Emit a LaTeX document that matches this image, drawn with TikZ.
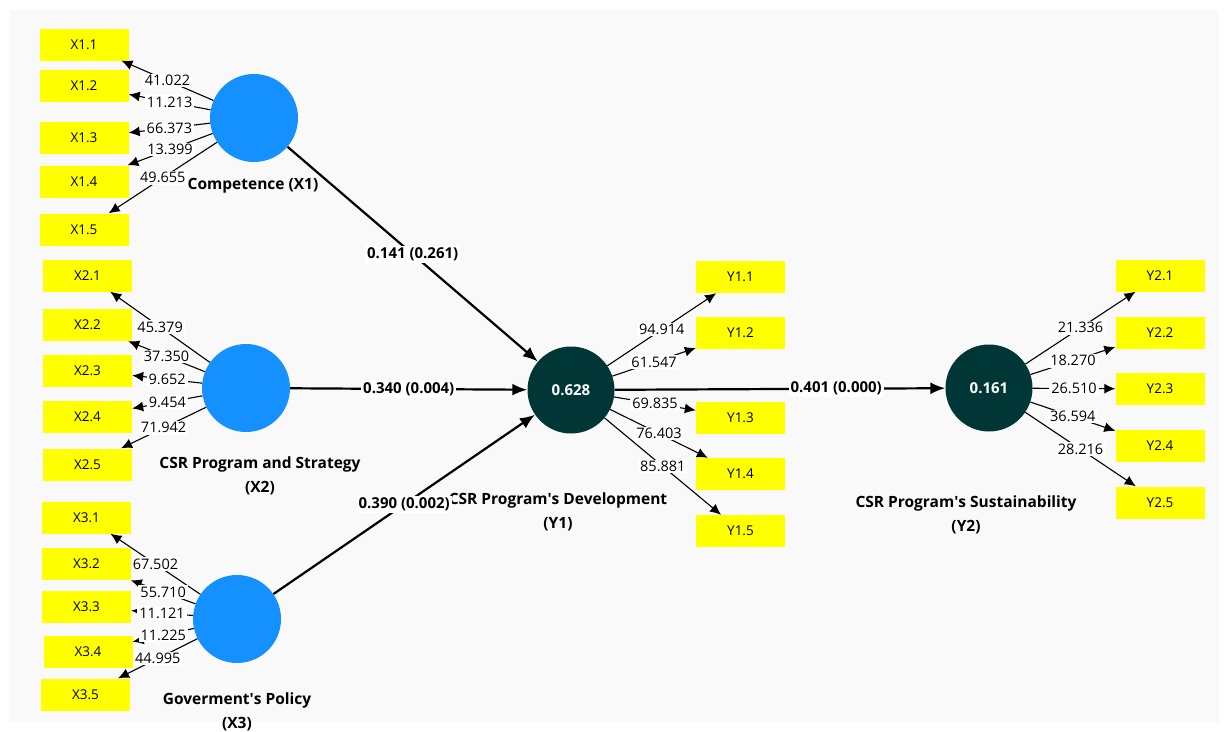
\documentclass[tikz,border=0pt]{standalone}
\usepackage{fontspec}
\setmainfont{Open Sans}
\usetikzlibrary{arrows.meta}
\definecolor{lvblue}{RGB}{20,145,255}
\definecolor{endo}{RGB}{0,54,54}
\definecolor{bgray}{RGB}{249,249,249}
\definecolor{indy}{RGB}{255,255,0}
\begin{document}
\begin{tikzpicture}[x=1pt,y=-1pt,
 ind/.style={fill=indy, minimum width=89pt, minimum height=32pt, inner sep=0pt, font=\fontsize{13.5}{15}\selectfont},
 exo/.style={circle, fill=lvblue, minimum size=88pt, inner sep=0pt},
 endv/.style={circle, fill=endo, minimum size=87pt, inner sep=0pt, text=white, font=\bfseries\fontsize{15}{17}\selectfont},
 ttl/.style={font=\bfseries\fontsize{15.5}{24}\selectfont, align=center},
 load/.style={line width=1.1pt, -{Latex[length=11pt,width=10pt]}},
 lnum/.style={fill=white, inner xsep=2pt, inner ysep=1.5pt, font=\fontsize{14.5}{16}\selectfont},
 strc/.style={line width=2.2pt, -{Latex[length=15pt,width=12pt]}},
 pnum/.style={fill=white, inner xsep=2pt, inner ysep=2pt, font=\bfseries\fontsize{15}{17}\selectfont},
]
\useasboundingbox (0,0) rectangle (1226,731);
\fill[white] (0,0) rectangle (1226,731);
\fill[bgray] (10,10) rectangle (1219,722);

% titles
\node[ttl] (t1) at (253,186) {Competence (X1)};
\node[ttl] (t2) at (260,475.5) {CSR Program and Strategy\\(X2)};
\node[ttl] (t3) at (237,712) {Goverment\textquotesingle s Policy\\(X3)};
\node[ttl] (t4) at (558,512) {CSR Program\textquotesingle s Development\\(Y1)};
\node[ttl] (t5) at (966,515) {CSR Program\textquotesingle s Sustainability\\(Y2)};

% latent variables
\node[exo] (X1) at (254,118) {};
\node[exo] (X2) at (246,388) {};
\node[exo] (X3) at (237,619) {};
\node[endv] (Y1) at (571,390) {0.628};
\node[endv] (Y2) at (989,388) {0.161};

% indicators
\node[ind] (x11) at (84,44.5) {X1.1};
\node[ind] (x12) at (84,86) {X1.2};
\node[ind] (x13) at (84,138) {X1.3};
\node[ind] (x14) at (84,181.5) {X1.4};
\node[ind] (x15) at (84,229.5) {X1.5};
\node[ind] (x21) at (87.5,275.5) {X2.1};
\node[ind] (x22) at (87.5,325) {X2.2};
\node[ind] (x23) at (87.5,370.5) {X2.3};
\node[ind] (x24) at (87.5,416.5) {X2.4};
\node[ind] (x25) at (87.5,464.5) {X2.5};
\node[ind] (x31) at (86.5,517.5) {X3.1};
\node[ind] (x32) at (86.5,564) {X3.2};
\node[ind] (x33) at (86.5,607) {X3.3};
\node[ind] (x34) at (88,651.5) {X3.4};
\node[ind] (x35) at (85.5,694.5) {X3.5};
\node[ind] (y11) at (740.5,277) {Y1.1};
\node[ind] (y12) at (740.5,333) {Y1.2};
\node[ind] (y13) at (740.5,417.5) {Y1.3};
\node[ind] (y14) at (740.5,474) {Y1.4};
\node[ind] (y15) at (740.5,531) {Y1.5};
\node[ind] (y21) at (1160,275.5) {Y2.1};
\node[ind] (y22) at (1160,332.5) {Y2.2};
\node[ind] (y23) at (1160,389) {Y2.3};
\node[ind] (y24) at (1160,446) {Y2.4};
\node[ind] (y25) at (1160,502.5) {Y2.5};

% loadings
\draw[load] (X1) -- node[lnum] {41.022} (x11);
\draw[load] (X1) -- node[lnum] {11.213} (x12);
\draw[load] (X1) -- node[lnum] {66.373} (x13);
\draw[load] (X1) -- node[lnum] {13.399} (x14);
\draw[load] (X1) -- node[lnum] {49.655} (x15);
\draw[load] (X2) -- node[lnum] {45.379} (x21);
\draw[load] (X2) -- node[lnum] {37.350} (x22);
\draw[load] (X2) -- node[lnum] {9.652} (x23);
\draw[load] (X2) -- node[lnum] {9.454} (x24);
\draw[load] (X2) -- node[lnum] {71.942} (x25);
\draw[load] (X3) -- node[lnum] {67.502} (x31);
\draw[load] (X3) -- node[lnum] {55.710} (x32);
\draw[load] (X3) -- node[lnum] {11.121} (x33);
\draw[load] (X3) -- node[lnum] {11.225} (x34);
\draw[load] (X3) -- node[lnum] {44.995} (x35);
\draw[load] (Y1) -- node[lnum] {94.914} (y11);
\draw[load] (Y1) -- node[lnum] {61.547} (y12);
\draw[load] (Y1) -- node[lnum] {69.835} (y13);
\draw[load] (Y1) -- node[lnum] {76.403} (y14);
\draw[load] (Y1) -- node[lnum] {85.881} (y15);
\draw[load] (Y2) -- node[lnum] {21.336} (y21);
\draw[load] (Y2) -- node[lnum] {18.270} (y22);
\draw[load] (Y2) -- node[lnum] {26.510} (y23);
\draw[load] (Y2) -- node[lnum] {36.594} (y24);
\draw[load] (Y2) -- node[lnum] {28.216} (y25);

% structural paths
\draw[strc] (X1) -- node[pnum] {0.141 (0.261)} (Y1);
\draw[strc] (X2) -- node[pnum] {0.340 (0.004)} (Y1);
\draw[strc] (X3) -- node[pnum] {0.390 (0.002)} (Y1);
\draw[strc] (Y1) -- node[pnum, pos=0.67] {0.401 (0.000)} (Y2);
\end{tikzpicture}
\end{document}
